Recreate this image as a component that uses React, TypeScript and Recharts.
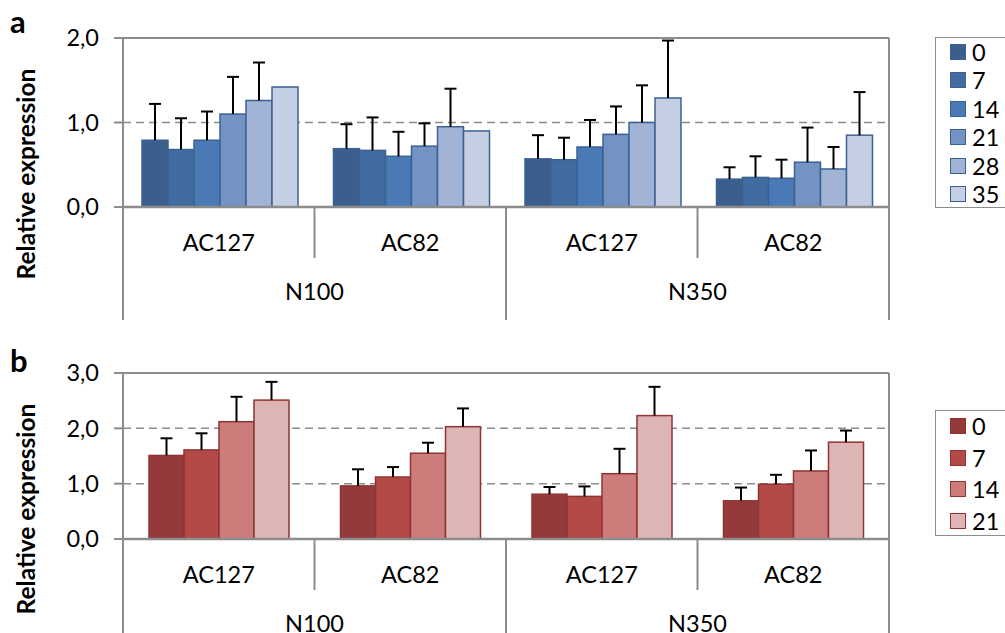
import React from 'react'
import { BarChart, Bar, XAxis, YAxis, CartesianGrid, ReferenceLine } from 'recharts'

const categories = ['AC127', 'AC82', 'AC127', 'AC82']
const nitrogen = ['N100', 'N100', 'N350', 'N350']

// panel a: six sampling days, columns follow categories
const daysA = ['0', '7', '14', '21', '28', '35']
const meanA = [
    [0.79, 0.69, 0.57, 0.33],
    [0.68, 0.67, 0.56, 0.35],
    [0.79, 0.6, 0.71, 0.34],
    [1.1, 0.72, 0.86, 0.53],
    [1.26, 0.95, 1.0, 0.45],
    [1.42, 0.9, 1.29, 0.85],
]
const errA = [
    [0.43, 0.29, 0.28, 0.14],
    [0.37, 0.39, 0.26, 0.25],
    [0.34, 0.29, 0.32, 0.22],
    [0.44, 0.27, 0.33, 0.41],
    [0.45, 0.45, 0.44, 0.26],
    [0, 0, 0.68, 0.51],
]
const colorsA = ['#3a5f8c', '#416c9f', '#4a7ab5', '#7393c3', '#a2b4d6', '#c5cfe3']
const ticksA = [0, 1, 2]

// panel b: four sampling days
const daysB = ['0', '7', '14', '21']
const meanB = [
    [1.51, 0.96, 0.81, 0.69],
    [1.61, 1.12, 0.77, 0.99],
    [2.12, 1.55, 1.18, 1.23],
    [2.51, 2.03, 2.23, 1.75],
]
const errB = [
    [0.31, 0.3, 0.13, 0.24],
    [0.3, 0.18, 0.18, 0.17],
    [0.45, 0.19, 0.45, 0.37],
    [0.33, 0.33, 0.52, 0.21],
]
const colorsB = ['#953a3a', '#b34a48', '#cb7c7b', '#deb5b5']
const ticksB = [0, 1, 2, 3]

const FONT = 'Lato, "Liberation Sans", sans-serif'
const FS = 23.5
const AXIS = '#8c8c8c'
const CHART_W = 1005
const LEFT = 123
const RIGHT = 116
const BAND = (CHART_W - LEFT - RIGHT) / categories.length

const buildRows = (days: string[], mean: number[][], err: number[][]) =>
    categories.map((cat, i) => {
        const row: Record<string, any> = { cat, grp: nitrogen[i] }
        days.forEach((d, j) => {
            row['m' + d] = mean[j][i]
            row['e' + d] = err[j][i]
        })
        return row
    })

const fmt = (v: number) => v.toFixed(1).replace('.', ',')

// bar rect plus an upward-only whisker, scaled from the bar's own pixel height
const BarWithError = (props: any) => {
    const { x, y, width, height, fill, edge, value, err } = props
    const cx = x + width / 2
    const pxPerUnit = value ? height / value : 0
    const top = y - err * pxPerUnit
    return (
        <g>
            <rect x={x} y={y} width={width} height={height} fill={fill} stroke={edge} strokeWidth={1.5} />
            {err > 0 && (
                <g stroke="#000" strokeWidth={2}>
                    <line x1={cx} y1={y} x2={cx} y2={top} />
                    <line x1={cx - 6} y1={top} x2={cx + 6} y2={top} />
                </g>
            )}
        </g>
    )
}

// two-level category axis: variety label, nitrogen group label and separators
const CategoryTick = (props: any) => {
    const { x, y, payload, index, plotH, axisH } = props
    const left = x - BAND / 2
    const right = x + BAND / 2
    const groupStart = index % 2 === 0
    return (
        <g>
            <text x={x} y={y + 35} textAnchor="middle" dominantBaseline="central" fontSize={FS} fill="#000">
                {payload.value}
            </text>
            <line x1={left} y1={y} x2={left} y2={y + (groupStart ? axisH : 51)} stroke={AXIS} strokeWidth={2} />
            {!groupStart && (
                <text x={left} y={y + 93} textAnchor="middle" fontSize={FS} fill="#000">
                    {nitrogen[index]}
                </text>
            )}
            {index === categories.length - 1 && (
                <line x1={right} y1={y - plotH} x2={right} y2={y + axisH} stroke={AXIS} strokeWidth={2} />
            )}
        </g>
    )
}

interface PanelProps {
    top: number
    height: number
    marginTop: number
    axisH: number
    days: string[]
    mean: number[][]
    err: number[][]
    colors: string[]
    edge: string
    ticks: number[]
    gap: number
}

function Panel({ top, height, marginTop, axisH, days, mean, err, colors, edge, ticks, gap }: PanelProps) {
    const rows = buildRows(days, mean, err)
    const yMax = ticks[ticks.length - 1]
    const plotH = height - marginTop - axisH
    return (
        <div style={{ position: 'absolute', left: 0, top }}>
            <BarChart
                width={CHART_W}
                height={height}
                data={rows}
                margin={{ top: marginTop, right: RIGHT, bottom: 0, left: 0 }}
                barGap={0}
                barCategoryGap={gap}
            >
                <CartesianGrid vertical={false} stroke={AXIS} strokeWidth={1.5} strokeDasharray="8 5" />
                <ReferenceLine y={yMax} stroke={AXIS} strokeWidth={2} />
                <YAxis
                    domain={[0, yMax]}
                    ticks={ticks}
                    width={LEFT}
                    tickFormatter={fmt}
                    tickSize={9}
                    tickMargin={15}
                    tick={{ fontSize: FS, fill: '#000' }}
                    axisLine={{ stroke: AXIS, strokeWidth: 2 }}
                    tickLine={{ stroke: AXIS, strokeWidth: 2 }}
                />
                <XAxis
                    dataKey="cat"
                    height={axisH}
                    interval={0}
                    tickSize={0}
                    tickMargin={0}
                    tickLine={false}
                    axisLine={{ stroke: AXIS, strokeWidth: 2.5 }}
                    tick={<CategoryTick plotH={plotH} axisH={axisH} />}
                />
                {days.map((d, j) => (
                    <Bar
                        key={d}
                        dataKey={'m' + d}
                        fill={colors[j]}
                        isAnimationActive={false}
                        shape={(p: any) => (
                            <BarWithError
                                {...p}
                                fill={colors[j]}
                                edge={edge}
                                value={p.payload['m' + d]}
                                err={p.payload['e' + d]}
                            />
                        )}
                    />
                ))}
            </BarChart>
        </div>
    )
}

function LegendBox({ top, height, days, colors, edge, first, step }: any) {
    return (
        <div
            style={{
                position: 'absolute',
                left: 935,
                top,
                width: 90,
                height,
                border: `1.5px solid ${AXIS}`,
                boxSizing: 'border-box',
                background: '#fff',
            }}
        >
            {days.map((d: string, j: number) => {
                const cy = first + j * step - top
                return (
                    <div key={d}>
                        <div
                            style={{
                                position: 'absolute',
                                left: 14,
                                top: cy - 8,
                                width: 16,
                                height: 16,
                                boxSizing: 'border-box',
                                background: colors[j],
                                border: `1.5px solid ${edge}`,
                            }}
                        />
                        <div
                            style={{
                                position: 'absolute',
                                left: 36,
                                top: cy - 14,
                                height: 28,
                                lineHeight: '28px',
                                fontSize: FS,
                            }}
                        >
                            {d}
                        </div>
                    </div>
                )
            })}
        </div>
    )
}

export default function App() {
    return (
        <div
            style={{
                position: 'absolute',
                left: 0,
                top: 0,
                width: 1005,
                height: 633,
                overflow: 'hidden',
                background: '#fff',
                fontFamily: FONT,
            }}
        >
            <Panel
                top={0}
                height={320}
                marginTop={38}
                axisH={113}
                days={daysA}
                mean={meanA}
                err={errA}
                colors={colorsA}
                edge="#3b6193"
                ticks={ticksA}
                gap={19}
            />
            <Panel
                top={330}
                height={303}
                marginTop={43}
                axisH={94}
                days={daysB}
                mean={meanB}
                err={errB}
                colors={colorsB}
                edge="#8e3533"
                ticks={ticksB}
                gap={26}
            />
            <LegendBox top={37} height={171} days={daysA} colors={colorsA} edge="#3b6193" first={51} step={28.4} />
            <LegendBox top={410} height={126} days={daysB} colors={colorsB} edge="#8e3533" first={425} step={31.6} />
            <svg width={1005} height={633} style={{ position: 'absolute', left: 0, top: 0, pointerEvents: 'none' }}>
                <g fontWeight="bold" fill="#000">
                    <text x={10} y={33} fontSize={31}>a</text>
                    <text x={10} y={372} fontSize={31}>b</text>
                    <text
                        transform="translate(25,174) rotate(-90)"
                        textAnchor="middle"
                        dominantBaseline="central"
                        fontSize={24.5}
                    >
                        Relative expression
                    </text>
                    <text
                        transform="translate(25,509) rotate(-90)"
                        textAnchor="middle"
                        dominantBaseline="central"
                        fontSize={24.5}
                    >
                        Relative expression
                    </text>
                </g>
            </svg>
        </div>
    )
}
